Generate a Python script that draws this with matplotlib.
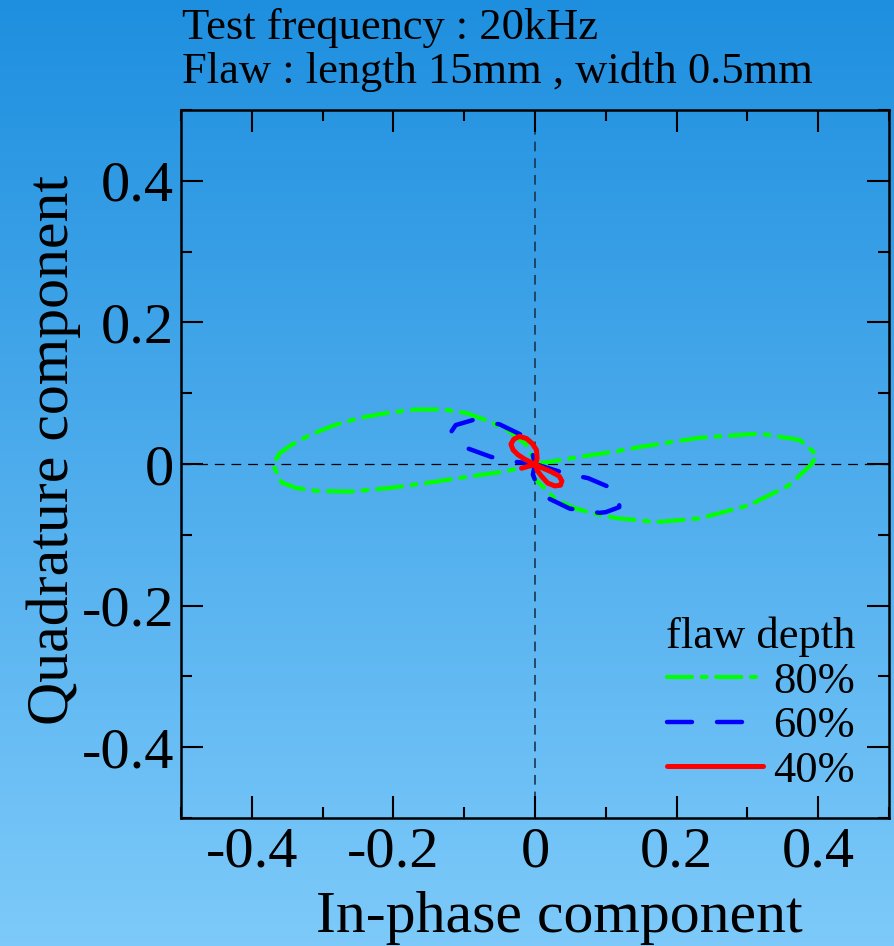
import matplotlib
matplotlib.use("Agg")
import matplotlib.pyplot as plt
import numpy as np
from matplotlib.ticker import FixedLocator, FuncFormatter

plt.rcParams['font.family'] = ['Liberation Serif', 'DejaVu Serif']
plt.rcParams['lines.scale_dashes'] = False

# Impedance-plane signals for three flaw depths (in-phase, quadrature)
depth_labels = ["80%", "60%", "40%"]

x80 = [0.000, 0.020, 0.063, 0.115, 0.148, 0.232, 0.317, 0.374, 0.398, 0.390,
       0.359, 0.303, 0.232, 0.171, 0.143, 0.119, 0.091, 0.058, 0.030, 0.013,
       -0.003, 0.000, -0.012, -0.036, -0.064, -0.097, -0.130, -0.168, -0.210,
       -0.248, -0.283, -0.318, -0.344, -0.361, -0.370, -0.358, -0.337, -0.309,
       -0.262, -0.206, -0.154, -0.102, -0.045, -0.012, 0.000]
y80 = [0.000, 0.003, 0.010, 0.018, 0.024, 0.037, 0.043, 0.034, 0.013, -0.001,
       -0.030, -0.058, -0.077, -0.082, -0.079, -0.077, -0.072, -0.063, -0.051,
       -0.034, -0.018, 0.003, 0.027, 0.046, 0.060, 0.072, 0.077, 0.077, 0.072,
       0.065, 0.055, 0.041, 0.027, 0.015, -0.001, -0.026, -0.034, -0.038,
       -0.039, -0.034, -0.027, -0.019, -0.011, -0.004, 0.000]

x60 = [0.000, 0.042, 0.075, 0.108, 0.119, 0.119, 0.100, 0.091, 0.049, 0.020,
       0.003, -0.003, 0.000, -0.005, -0.019, -0.050, -0.088, -0.112, -0.118,
       -0.109, -0.095, -0.062, -0.027, 0.000]
y60 = [0.000, -0.013, -0.020, -0.034, -0.050, -0.061, -0.068, -0.069, -0.063,
       -0.049, -0.030, -0.015, 0.000, 0.020, 0.041, 0.056, 0.062, 0.055, 0.046,
       0.034, 0.022, 0.010, 0.003, 0.000]

x40 = [-0.019, -0.008, 0.000, 0.009, 0.023, 0.034, 0.038, 0.036, 0.028, 0.018,
       0.009, 0.003, 0.001, 0.003, 0.002, -0.004, -0.012, -0.022, -0.030,
       -0.034, -0.031, -0.024, -0.015, -0.005, 0.000]
y40 = [-0.006, -0.003, -0.001, -0.005, -0.011, -0.017, -0.024, -0.030, -0.031,
       -0.027, -0.017, -0.009, 0.000, 0.008, 0.020, 0.029, 0.036, 0.039, 0.035,
       0.028, 0.020, 0.013, 0.007, 0.002, -0.001]

major_ticks = [-0.4, -0.2, 0.0, 0.2, 0.4]
minor_ticks = [-0.5, -0.3, -0.1, 0.1, 0.3, 0.5]

fig = plt.figure(figsize=(8.94, 9.46), dpi=100)

# vertical blue gradient behind everything
bg = fig.add_axes([0, 0, 1, 1], zorder=-10)
top = np.array([0x1e, 0x8f, 0xdf]) / 255
bottom = np.array([0x7d, 0xca, 0xfa]) / 255
t = np.linspace(0, 1, 256)[:, None]
grad = top[None, :] * (1 - t) + bottom[None, :] * t
bg.imshow(grad[:, None, :], aspect='auto', extent=[0, 1, 0, 1])
bg.set_axis_off()

ax = fig.add_axes([181 / 894, 1 - 818 / 946, 708 / 894, 708 / 946])
ax.patch.set_alpha(0)
ax.set_xlim(-0.5, 0.5)
ax.set_ylim(-0.5, 0.5)

ax.axhline(0, color='black', lw=0.9, dashes=(7, 5), zorder=1)
ax.axvline(0, color='#1a3550', lw=1.2, dashes=(7, 5), zorder=1)

ax.plot(x80, y80, color='#00ff00', lw=3.0, dashes=(18, 7, 3.5, 7),
        dash_capstyle='round', label=depth_labels[0], zorder=3)
ax.plot(x60, y60, color='#0000ff', lw=3.2, dashes=(18, 18),
        dash_capstyle='round', label=depth_labels[1], zorder=3)
ax.plot(x40, y40, color='#ff0000', lw=3.6, solid_capstyle='round',
        solid_joinstyle='round', label=depth_labels[2], zorder=4)

fmt = FuncFormatter(lambda v, pos: "0" if abs(v) < 1e-9 else f"{v:.1f}")
for axis in (ax.xaxis, ax.yaxis):
    axis.set_major_locator(FixedLocator(major_ticks))
    axis.set_minor_locator(FixedLocator(minor_ticks))
    axis.set_major_formatter(fmt)

ax.tick_params(which='both', direction='in', top=True, right=True,
               width=1.5, labelsize=42, colors='black')
ax.tick_params(which='major', length=16)
ax.tick_params(which='minor', length=8)
ax.tick_params(axis='x', pad=6)
ax.tick_params(axis='y', pad=5)
for s in ax.spines.values():
    s.set_linewidth(1.8)

fig.text(559 / 894, 1 - 932 / 946, "In-phase component", fontsize=43,
         ha='center', va='baseline')
fig.text(68 / 894, 1 - 450 / 946, "Quadrature component", fontsize=43,
         rotation=90, rotation_mode='anchor', ha='center', va='baseline')

fig.text(182 / 894, 1 - 39 / 946, "Test frequency : 20kHz", fontsize=32,
         ha='left', va='baseline')
fig.text(182 / 894, 1 - 83 / 946, "Flaw : length 15mm , width 0.5mm",
         fontsize=32, ha='left', va='baseline')

leg = ax.legend(title="flaw depth", loc='lower right', frameon=False,
                fontsize=32, title_fontsize=32, handlelength=2.15,
                handletextpad=0.22, labelspacing=0.1, borderaxespad=0.0,
                bbox_to_anchor=(0.978, 0.013))

fig.savefig("out.png", dpi=100)
